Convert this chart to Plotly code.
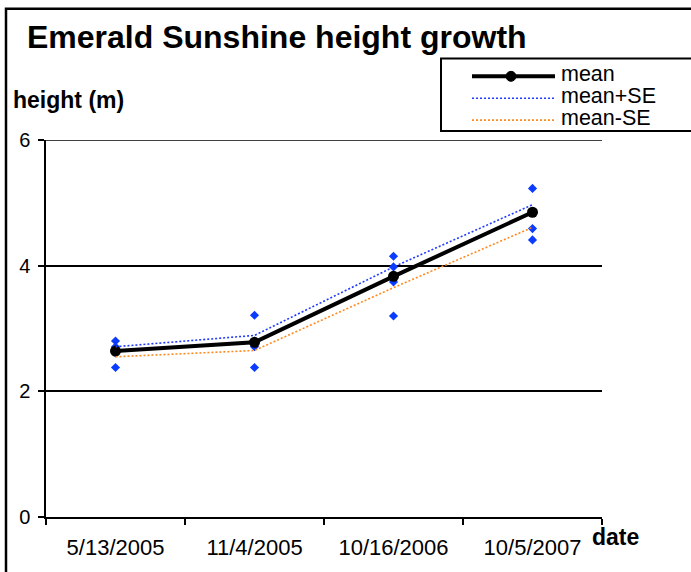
import plotly.graph_objects as go

dates = ["5/13/2005", "11/4/2005", "10/16/2006", "10/5/2007"]
mean = [2.64, 2.78, 3.83, 4.85]
mean_plus_se = [2.71, 2.89, 3.98, 4.97]
mean_minus_se = [2.55, 2.65, 3.65, 4.61]
obs_dates = (["5/13/2005"] * 4 + ["11/4/2005"] * 4 + ["10/16/2006"] * 4 + ["10/5/2007"] * 3)
obs_heights = [2.80, 2.71, 2.61, 2.38,
               3.21, 2.80, 2.71, 2.38,
               4.15, 3.98, 3.74, 3.20,
               5.23, 4.59, 4.41]
y_ticks = [0, 2, 4, 6]
series_names = ["mean", "mean+SE", "mean-SE"]

FONT = "Arial, Liberation Sans, sans-serif"
BLUE = "#1f3cff"
ORANGE = "#ff8a1f"
DOT = "2px,2px"

fig = go.Figure()
fig.add_trace(go.Scatter(x=obs_dates, y=obs_heights, mode="markers", name="height",
                         marker=dict(symbol="diamond", size=7, color="#0a3cff"),
                         showlegend=False, hoverinfo="skip"))
fig.add_trace(go.Scatter(x=dates, y=mean, mode="lines+markers", name=series_names[0],
                         line=dict(color="black", width=4),
                         marker=dict(symbol="circle", size=11, color="black"),
                         showlegend=False))
fig.add_trace(go.Scatter(x=dates, y=mean_plus_se, mode="lines", name=series_names[1],
                         line=dict(color=BLUE, width=1.6, dash=DOT),
                         showlegend=False))
fig.add_trace(go.Scatter(x=dates, y=mean_minus_se, mode="lines", name=series_names[2],
                         line=dict(color=ORANGE, width=1.6, dash=DOT),
                         showlegend=False))

L, R, T, B = 46, 89, 140, 53
W, H = 691, 572
pw, ph = W - L - R, H - T - B

def px_x(x):
    return (x - L) / pw

def px_y(y):
    return (H - B - y) / ph

shapes = [
    # outer chart frame
    dict(type="rect", xref="paper", yref="paper",
         x0=px_x(6), x1=px_x(800), y0=px_y(700), y1=px_y(8),
         line=dict(color="black", width=2.5), fillcolor="rgba(0,0,0,0)",
         layer="above"),
    # top gridline (plotly drops gridlines lying on the plot edge)
    dict(type="line", xref="paper", yref="y", x0=0, x1=1, y0=y_ticks[-1], y1=y_ticks[-1],
         line=dict(color="black", width=1.5), layer="below"),
    # legend box
    dict(type="rect", xref="paper", yref="paper",
         x0=px_x(441), x1=px_x(800), y0=px_y(131), y1=px_y(58),
         line=dict(color="black", width=2), fillcolor="white", layer="above"),
]

annotations = [
    dict(text="<b>height (m)</b>", xref="paper", yref="paper",
         x=px_x(11), y=px_y(100), xanchor="left", yanchor="middle",
         showarrow=False, font=dict(size=23, family=FONT, color="black")),
    dict(text="<b>date</b>", xref="paper", yref="paper",
         x=px_x(590), y=px_y(539), xanchor="left", yanchor="middle",
         showarrow=False, font=dict(size=23, family=FONT, color="black")),
]

# legend entries (drawn manually to match the compact original legend)
leg_rows = [76, 98, 120]
leg_styles = [dict(color="black", width=4, dash="solid"),
              dict(color=BLUE, width=1.6, dash=DOT),
              dict(color=ORANGE, width=1.6, dash=DOT)]
for name, yy, st in zip(series_names, leg_rows, leg_styles):
    shapes.append(dict(type="line", xref="paper", yref="paper",
                       x0=px_x(472), x1=px_x(555), y0=px_y(yy), y1=px_y(yy),
                       line=st, layer="above"))
    annotations.append(dict(text=name, xref="paper", yref="paper",
                            x=px_x(559), y=px_y(yy - 2), xanchor="left", yanchor="middle",
                            showarrow=False,
                            font=dict(size=21.5, family=FONT, color="black")))
shapes.append(dict(type="circle", xref="paper", yref="paper",
                   x0=px_x(506), x1=px_x(516), y0=px_y(leg_rows[0] + 5), y1=px_y(leg_rows[0] - 5),
                   fillcolor="black", line=dict(color="black", width=1), layer="above"))

fig.update_layout(
    width=W, height=H,
    margin=dict(l=L, r=R, t=T, b=B, pad=0),
    paper_bgcolor="white", plot_bgcolor="white",
    font=dict(family=FONT, color="black"),
    showlegend=False,
    title=dict(text="<b>Emerald Sunshine height growth</b>",
               x=27 / W, xanchor="left", xref="container",
               y=1 - 37 / H, yanchor="middle", yref="container",
               font=dict(size=32, family=FONT, color="black")),
    xaxis=dict(type="category", categoryorder="array", categoryarray=dates,
               range=[-0.5, 3.5], tickson="boundaries", ticks="outside",
               ticklen=6, tickcolor="black", tickwidth=1.5,
               showline=True, linecolor="black", linewidth=1.5,
               showgrid=False, zeroline=False, ticklabelstandoff=10,
               tickfont=dict(size=22, family=FONT, color="black")),
    yaxis=dict(range=[0, 6], tickvals=y_ticks, ticks="outside", ticklen=6,
               tickcolor="black", tickwidth=1.5,
               showline=True, linecolor="black", linewidth=1.5,
               showgrid=True, gridcolor="black", gridwidth=1.5,
               zeroline=False, ticklabelstandoff=4,
               tickfont=dict(size=20, family=FONT, color="black")),
    annotations=annotations,
    shapes=shapes,
)

fig.write_html("out.html", config={"displayModeBar": False},
               post_script="document.body.style.margin='0';")
